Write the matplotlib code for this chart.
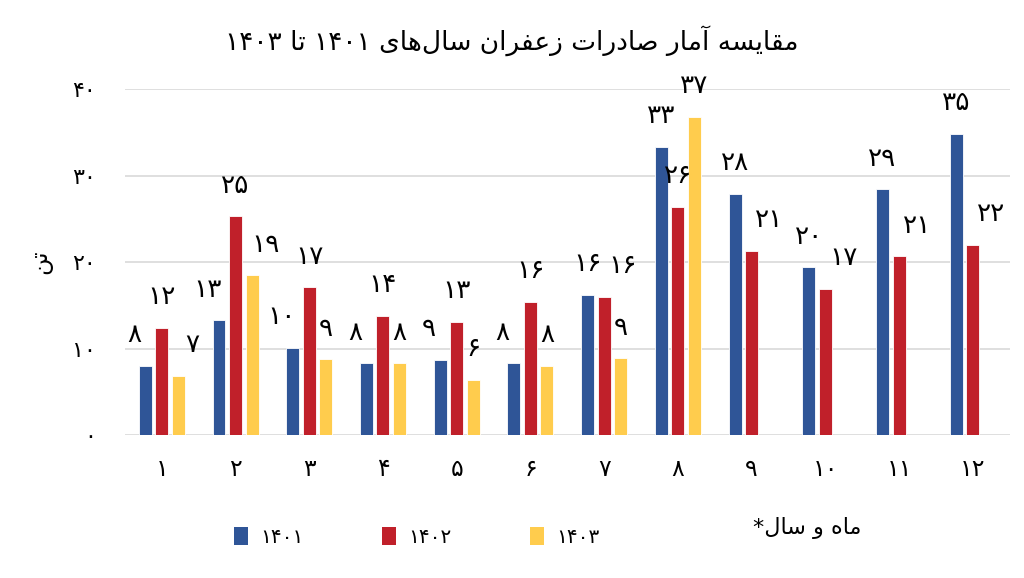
import numpy as np
import matplotlib
matplotlib.use("Agg")
import matplotlib.pyplot as plt
from matplotlib.patches import Patch

# ---------------- data ----------------
months = list(range(1, 13))
series_names = ["1401", "1402", "1403"]
vals_1401 = [8.0, 13.3, 10.1, 8.3, 8.7, 8.3, 16.2, 33.3, 27.9, 19.4, 28.4, 34.8]
vals_1402 = [12.4, 25.3, 17.1, 13.8, 13.1, 15.4, 16.0, 26.4, 21.3, 16.9, 20.7, 22.0]
vals_1403 = [6.9, 18.5, 8.8, 8.3, 6.4, 8.0, 8.9, 36.8, None, None, None, None]
labels_1401 = [8, 13, 10, 8, 9, 8, 16, 33, 28, 20, 29, 35]
labels_1402 = [12, 25, 17, 14, 13, 16, 16, 26, 21, 17, 21, 22]
labels_1403 = [7, 19, 9, 8, 6, 8, 9, 37, None, None, None, None]
y_ticks = [0, 10, 20, 30, 40]

title_text = "مقایسه آمار صادرات زعفران سال\u200cهای ۱۴۰۱ تا ۱۴۰۳"
ylabel_text = "تن"
xlabel_text = "ماه و سال*"

colors = ["#2F5597", "#C0202A", "#FFCC4D"]

# ---------------- minimal Persian shaping + bidi ----------------
FORMS = {
    '\u0622': ('\uFE81', '\uFE82', None, None),
    '\u0627': ('\uFE8D', '\uFE8E', None, None),
    '\u062A': ('\uFE95', '\uFE96', '\uFE97', '\uFE98'),
    '\u062F': ('\uFEA9', '\uFEAA', None, None),
    '\u0631': ('\uFEAD', '\uFEAE', None, None),
    '\u0632': ('\uFEAF', '\uFEB0', None, None),
    '\u0633': ('\uFEB1', '\uFEB2', '\uFEB3', '\uFEB4'),
    '\u0635': ('\uFEB9', '\uFEBA', '\uFEBB', '\uFEBC'),
    '\u0639': ('\uFEC9', '\uFECA', '\uFECB', '\uFECC'),
    '\u0641': ('\uFED1', '\uFED2', '\uFED3', '\uFED4'),
    '\u0642': ('\uFED5', '\uFED6', '\uFED7', '\uFED8'),
    '\u0644': ('\uFEDD', '\uFEDE', '\uFEDF', '\uFEE0'),
    '\u0645': ('\uFEE1', '\uFEE2', '\uFEE3', '\uFEE4'),
    '\u0646': ('\uFEE5', '\uFEE6', '\uFEE7', '\uFEE8'),
    '\u0647': ('\uFEE9', '\uFEEA', '\uFEEB', '\uFEEC'),
    '\u0648': ('\uFEED', '\uFEEE', None, None),
    '\u06CC': ('\uFBFC', '\uFBFD', '\uFBFE', '\uFBFF'),
}
LAM_ALEF = {'\u0627': ('\uFEFB', '\uFEFC'), '\u0622': ('\uFEF5', '\uFEF6')}


def shape(text):
    chars = list(text)
    out = []
    i = 0
    n = len(chars)
    while i < n:
        c = chars[i]
        if c == '\u200c':
            i += 1
            continue
        if c not in FORMS:
            out.append(c)
            i += 1
            continue
        prev = chars[i - 1] if i > 0 else None
        prev_conn = prev in FORMS and FORMS[prev][2] is not None
        nxt = chars[i + 1] if i + 1 < n else None
        if c == '\u0644' and nxt in LAM_ALEF:
            out.append(LAM_ALEF[nxt][1 if prev_conn else 0])
            i += 2
            continue
        next_conn = FORMS[c][2] is not None and nxt in FORMS
        if prev_conn and next_conn:
            out.append(FORMS[c][3])
        elif prev_conn:
            out.append(FORMS[c][1])
        elif next_conn:
            out.append(FORMS[c][2])
        else:
            out.append(FORMS[c][0])
        i += 1
    return ''.join(out)


def is_ltr(ch):
    return ch.isdigit() or ('a' <= ch.lower() <= 'z')


def fa(text):
    s = shape(text)
    runs = []
    for ch in s:
        kind = is_ltr(ch)
        if runs and runs[-1][0] == kind:
            runs[-1][1].append(ch)
        else:
            runs.append([kind, [ch]])
    res = []
    for kind, chs in reversed(runs):
        res.append(''.join(chs) if kind else ''.join(reversed(chs)))
    return ''.join(res)


def fa_num(v):
    return str(v).translate(str.maketrans("0123456789", "۰۱۲۳۴۵۶۷۸۹"))


# ---------------- plot ----------------
plt.rcParams['font.family'] = ['DejaVu Sans']
fig = plt.figure(figsize=(10.24, 5.78), dpi=100)
ax = fig.add_axes([0.122, 0.247, 0.864, 0.599])

x = np.arange(len(months))
width = 0.176
step = 0.224
all_vals = [vals_1401, vals_1402, vals_1403]
all_labels = [labels_1401, labels_1402, labels_1403]

for k, (vals, labs, col, name) in enumerate(zip(all_vals, all_labels, colors, series_names)):
    xs = [xi + (k - 1) * step for xi, v in zip(x, vals) if v is not None]
    hs = [v for v in vals if v is not None]
    bars = ax.bar(xs, hs, width=width, color=col, edgecolor='white', linewidth=0.6,
                  label=fa_num(name), zorder=3)
    for j, (b, lab) in enumerate(zip(bars, [l for l in labs if l is not None])):
        dx = 0
        if k == 0 and j < 6:
            dx = -8
        if k == 1 and (j == 6 or j >= 8):
            dx = 13
        if k == 2 and j < 2:
            dx = 10
        ax.annotate(fa_num(lab), (b.get_x() + b.get_width() / 2, b.get_height()),
                    xytext=(dx, 22), textcoords='offset points',
                    ha='center', va='center', fontsize=19, color='black', zorder=5)

ax.set_xlim(-0.5, 11.5)
ax.set_ylim(0, 40)
ax.set_yticks(y_ticks)
ax.set_yticklabels([fa_num(t) for t in y_ticks], fontsize=16)
ax.set_xticks(x)
ax.set_xticklabels([fa_num(m) for m in months], fontsize=17)
ax.tick_params(axis='y', length=0, pad=21)
ax.tick_params(axis='x', length=0, pad=16)
ax.grid(axis='y', color='#D9D9D9', linewidth=1.2, zorder=0)
for s in ax.spines.values():
    s.set_visible(False)
ax.set_ylabel(fa(ylabel_text), fontsize=17, labelpad=14)

fig.text(0.5, 0.93, fa(title_text), ha='center', va='center', fontsize=19)
fig.text(0.788, 0.0865, fa(xlabel_text), ha='center', va='center', fontsize=16)

handles = [Patch(facecolor=c, edgecolor='none') for c in colors]
fig.legend(handles, [fa_num(n) for n in series_names], loc='center',
           bbox_to_anchor=(0.407, 0.071), ncol=3, frameon=False, fontsize=14.5,
           handlelength=0.7, handleheight=1.0, handletextpad=0.6, columnspacing=3.9)

fig.savefig("out.png", dpi=100)
